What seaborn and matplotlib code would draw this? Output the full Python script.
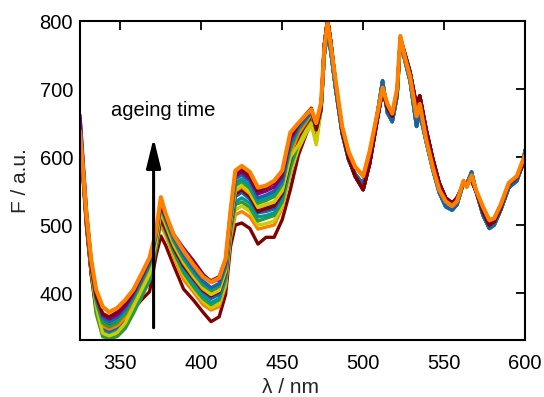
import matplotlib
matplotlib.use("Agg")
import numpy as np
import pandas as pd
import seaborn as sns
import matplotlib.pyplot as plt

# wavelengths (nm)
head_wl = [325, 327, 329, 332, 335, 339, 343, 348, 353, 358, 363, 368, 372, 375, 378, 383,
           389, 395, 401, 406, 411, 415, 418, 421, 425, 430, 435, 440, 445, 450, 455, 460,
           465, 468, 471]
tail_wl = [474, 476, 478, 480, 483, 487, 491, 495, 500, 504, 508, 512, 515, 518, 521, 523,
           526, 529, 533, 535, 539, 543, 547, 551, 555, 558, 562, 564, 567, 570, 574, 578,
           581, 585, 590, 595, 599, 600]

# spectra at short wavelengths (one list per ageing step, earliest first)
S0 = [630, 568, 500, 428, 383, 362, 356, 356, 360, 376, 390, 402, 455, 484, 470, 440, 406, 390, 372, 358,
      365, 398, 468, 500, 503, 495, 472, 482, 482, 508, 552, 603, 635, 650, 628]
S1 = [640, 572, 505, 432, 382, 352, 345, 350, 362, 384, 405, 425, 470, 500, 485, 452, 420, 402, 383, 375,
      380, 410, 480, 515, 520, 512, 494, 497, 500, 525, 575, 615, 640, 655, 630]
S2 = [650, 575, 506, 430, 372, 338, 334, 338, 350, 372, 396, 420, 468, 505, 488, 456, 426, 406, 388, 378,
      384, 414, 486, 522, 528, 520, 500, 502, 506, 528, 576, 612, 636, 648, 618]
S3 = [645, 570, 502, 427, 370, 336, 333, 336, 348, 370, 394, 418, 466, 508, 490, 460, 430, 410, 392, 383,
      390, 420, 490, 530, 534, 526, 506, 510, 514, 534, 584, 620, 644, 656, 628]
S4 = [642, 574, 508, 434, 378, 345, 340, 344, 356, 378, 400, 425, 472, 512, 494, 464, 434, 414, 396, 386,
      392, 422, 492, 534, 540, 532, 512, 514, 518, 538, 590, 626, 648, 660, 634]
S5 = [648, 580, 512, 438, 384, 350, 344, 349, 362, 384, 406, 430, 476, 516, 498, 468, 440, 420, 402, 392,
      398, 428, 498, 542, 548, 538, 518, 520, 524, 544, 596, 630, 650, 662, 638]
S6 = [662, 592, 522, 446, 392, 358, 352, 357, 370, 390, 414, 438, 482, 520, 504, 476, 452, 434, 414, 402,
      406, 434, 502, 548, 554, 544, 522, 526, 532, 552, 604, 636, 656, 668, 644]
S7 = [632, 566, 498, 426, 378, 355, 350, 354, 366, 386, 408, 432, 474, 510, 494, 466, 440, 422, 404, 396,
      402, 430, 500, 546, 552, 542, 520, 524, 528, 546, 598, 630, 650, 662, 634]
S8 = [636, 571, 503, 432, 383, 352, 347, 352, 364, 386, 410, 434, 478, 518, 500, 470, 444, 424, 406, 398,
      404, 432, 502, 550, 556, 546, 526, 530, 534, 552, 604, 634, 652, 664, 638]
S9 = [644, 578, 509, 436, 380, 341, 337, 342, 356, 380, 404, 428, 474, 522, 502, 472, 446, 426, 408, 398,
      404, 434, 504, 552, 558, 548, 526, 530, 534, 550, 600, 618, 640, 650, 620]
S10 = [640, 574, 507, 437, 388, 356, 350, 356, 370, 392, 416, 440, 484, 526, 506, 476, 450, 430, 412, 404,
       410, 438, 508, 558, 564, 554, 532, 536, 542, 560, 612, 640, 656, 666, 640]
S11 = [652, 584, 515, 442, 392, 362, 356, 361, 374, 394, 418, 442, 484, 528, 508, 478, 452, 432, 414, 406,
       412, 440, 510, 562, 568, 558, 536, 540, 546, 562, 616, 642, 658, 668, 644]
S12 = [646, 579, 511, 440, 394, 364, 358, 364, 377, 397, 420, 445, 486, 532, 510, 481, 456, 436, 418, 408,
       414, 442, 512, 568, 574, 564, 540, 544, 550, 566, 620, 644, 658, 666, 642]
S13 = [658, 588, 518, 446, 398, 368, 362, 368, 381, 400, 424, 448, 488, 535, 514, 486, 466, 448, 428, 416,
       420, 446, 516, 572, 578, 568, 546, 550, 556, 572, 626, 648, 662, 670, 646]
S14 = [634, 570, 505, 438, 396, 370, 365, 372, 384, 402, 426, 450, 488, 530, 512, 484, 462, 446, 426, 418,
       424, 450, 518, 576, 582, 572, 550, 555, 562, 578, 630, 648, 664, 672, 640]
S15 = [638, 578, 515, 448, 405, 380, 372, 378, 390, 405, 428, 452, 490, 541, 516, 485, 462, 442, 424, 416,
       422, 450, 520, 580, 587, 578, 555, 558, 565, 580, 636, 650, 663, 670, 650]

# long-wavelength part, where all spectra nearly coincide (three variants)
TAIL_A = [680, 760, 798, 765, 712, 645, 608, 586, 572, 608, 655, 702, 678, 664, 700, 778, 745, 718, 660, 678,
          625, 585, 552, 535, 528, 535, 565, 556, 573, 550, 527, 507, 510, 530, 562, 572, 597, 602]
TAIL_B = [672, 765, 803, 770, 708, 638, 598, 572, 552, 590, 645, 698, 672, 660, 695, 775, 750, 725, 675, 690,
          640, 598, 562, 540, 532, 540, 560, 562, 566, 548, 520, 500, 505, 525, 560, 570, 590, 595]
TAIL_C = [670, 750, 785, 755, 700, 635, 596, 575, 560, 598, 652, 712, 665, 652, 690, 772, 740, 712, 645, 665,
          622, 582, 548, 527, 522, 530, 562, 560, 578, 548, 515, 495, 500, 522, 555, 565, 592, 610]

heads = [S0, S1, S2, S3, S4, S5, S6, S7, S8, S9, S10, S11, S12, S13, S14, S15]
tail_of = ["B", "B", "C", "C", "C", "C", "B", "B", "A", "C", "C", "C", "C", "B", "B", "A"]
tails = {"A": TAIL_A, "B": TAIL_B, "C": TAIL_C}

cycle = ["#800000", "#FF8000", "#CCCC00", "#339933", "#009999", "#1F5FA8", "#800080"]

rows = []
for i, (h, t) in enumerate(zip(heads, tail_of)):
    wl = head_wl + tail_wl
    vals = h + tails[t]
    for w, v in zip(wl, vals):
        rows.append({"wl": w, "F": v, "run": f"t{i:02d}"})
df = pd.DataFrame(rows)
runs = [f"t{i:02d}" for i in range(len(heads))]
palette = {r: cycle[i % len(cycle)] for i, r in enumerate(runs)}

sns.set_theme(style="white")
plt.rcParams["font.family"] = ["Liberation Sans", "DejaVu Sans"]

fig = plt.figure(figsize=(5.44, 3.97), dpi=100)
ax = fig.add_axes([0.147, 0.1436, 0.818, 0.8034])

sns.lineplot(data=df, x="wl", y="F", hue="run", hue_order=runs, palette=palette,
             estimator=None, sort=False, legend=False, linewidth=2.4, ax=ax)
ax.lines[-1].set_linewidth(3.0)

ax.set_xlim(325, 600)
ax.set_ylim(331, 800)
ax.set_xticks([350, 400, 450, 500, 550, 600])
ax.set_yticks([400, 500, 600, 700, 800])
for s in ax.spines.values():
    s.set_visible(True)
    s.set_color("black")
    s.set_linewidth(1.5)
ax.tick_params(axis="both", direction="in", length=6.5, width=1.3, colors="black",
               top=True, right=True, labelsize=14.5, labelcolor="black")
ax.tick_params(axis="x", pad=10)
ax.tick_params(axis="y", pad=5)
ax.set_xlabel("λ / nm", fontsize=15)
ax.set_ylabel("F / a.u.", fontsize=15)
ax.xaxis.set_label_coords(0.472, -0.12)
ax.yaxis.set_label_coords(-0.112, 0.5)

ax.annotate("", xy=(370.5, 628), xytext=(370.5, 349),
            arrowprops=dict(arrowstyle="-|>,head_length=0.9,head_width=0.22", lw=2.2,
                            color="black", mutation_scale=20, shrinkA=0, shrinkB=0))
ax.text(376.5, 668, "ageing time", ha="center", va="center", fontsize=14.5, color="black")

fig.savefig("out.png", dpi=100)
